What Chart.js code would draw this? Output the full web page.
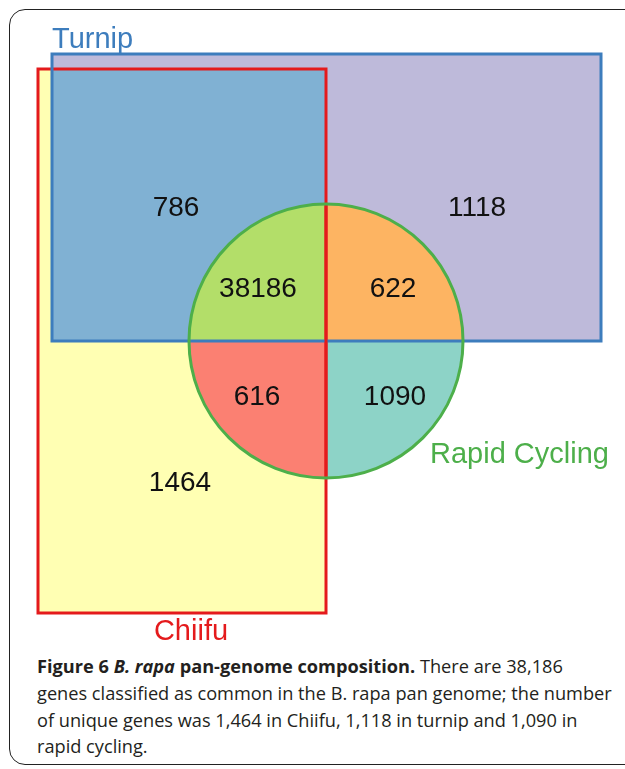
<!DOCTYPE html>
<html>
<head>
<meta charset="utf-8">
<script src="https://cdn.jsdelivr.net/npm/chart.js@4/dist/chart.umd.min.js"></script>
<style>
  html, body { margin: 0; padding: 0; background: #fff; }
  body { width: 625px; height: 769px; position: relative; overflow: hidden; }
  #frame {
    position: absolute; left: 9px; top: 9px; width: 700px; height: 756px;
    border: 1.5px solid #222; border-radius: 16px; box-sizing: border-box;
  }
  #chartBox { position: absolute; left: 0; top: 0; width: 625px; height: 650px; }
  #caption {
    position: absolute; left: 37px; top: 653px; width: 590px;
    font-family: "Open Sans", sans-serif; font-size: 18.2px; line-height: 26.8px;
    color: #231f20; white-space: nowrap;
  }
</style>
</head>
<body>
<div id="frame"></div>
<div id="chartBox"><canvas id="venn"></canvas></div>
<div id="caption">
  <b>Figure 6 <i>B. rapa</i> pan-genome composition.</b> There are 38,186<br>
  genes classified as common in the B. rapa pan genome; the number<br>
  of unique genes was 1,464 in Chiifu, 1,118 in turnip and 1,090 in<br>
  rapid cycling.
</div>
<script>
// set names and colours
var setNames = ['Turnip', 'Chiifu', 'Rapid Cycling'];
var setColors = ['#3d7dbd', '#e41a1c', '#4daf4a'];

// region counts (gene numbers)
var regionNames = ['Turnip only', 'Turnip & Chiifu', 'All three', 'Turnip & Rapid', 'Chiifu & Rapid', 'Rapid only', 'Chiifu only'];
var regionCounts = [1118, 786, 38186, 622, 616, 1090, 1464];
var regionFills = ['#bebada', '#80b1d3', '#b3de69', '#fdb462', '#fb8072', '#8dd3c7', '#ffffb3'];

// diagram layout in axis units
var turnipBox = { x0: 52, y0: 54, x1: 601, y1: 341 };
var chiifuBox = { x0: 38, y0: 69, x1: 326, y1: 613 };
var rapidCircle = { cx: 326, cy: 341, r: 137 };
var countPos = [[477, 208], [176, 208], [258, 289], [393, 289], [257, 397], [395, 397], [180, 483]];
var namePos = [[52, 40, 'left'], [191, 632, 'center'], [430, 455, 'left']];

var vennPlugin = {
    id: 'venn',
    beforeDatasetsDraw: function(chart) {
        var ctx = chart.ctx;
        var xs = chart.scales.x, ys = chart.scales.y;
        var px = function(v) { return xs.getPixelForValue(v); };
        var py = function(v) { return ys.getPixelForValue(v); };

        function fillBox(b, color) {
            ctx.fillStyle = color;
            ctx.fillRect(px(b.x0), py(b.y0), px(b.x1) - px(b.x0), py(b.y1) - py(b.y0));
        }
        function strokeBox(b, color) {
            ctx.strokeStyle = color;
            ctx.lineWidth = 3;
            ctx.strokeRect(px(b.x0), py(b.y0), px(b.x1) - px(b.x0), py(b.y1) - py(b.y0));
        }

        ctx.save();
        // rectangles
        fillBox(chiifuBox, regionFills[6]);
        fillBox(turnipBox, regionFills[0]);
        fillBox({ x0: turnipBox.x0, y0: chiifuBox.y0, x1: chiifuBox.x1, y1: turnipBox.y1 }, regionFills[1]);

        // circle quarters
        var cx = px(rapidCircle.cx), cy = py(rapidCircle.cy);
        var r = px(rapidCircle.cx + rapidCircle.r) - cx;
        var quarters = [[Math.PI, 1.5 * Math.PI, 2], [1.5 * Math.PI, 2 * Math.PI, 3],
                        [0.5 * Math.PI, Math.PI, 4], [0, 0.5 * Math.PI, 5]];
        quarters.forEach(function(q) {
            ctx.beginPath();
            ctx.moveTo(cx, cy);
            ctx.arc(cx, cy, r, q[0], q[1]);
            ctx.closePath();
            ctx.fillStyle = regionFills[q[2]];
            ctx.fill();
        });

        // outlines
        strokeBox(chiifuBox, setColors[1]);
        strokeBox(turnipBox, setColors[0]);
        ctx.beginPath();
        ctx.moveTo(px(chiifuBox.x1), py(rapidCircle.cy - rapidCircle.r));
        ctx.lineTo(px(chiifuBox.x1), py(rapidCircle.cy + rapidCircle.r));
        ctx.strokeStyle = setColors[1];
        ctx.lineWidth = 3;
        ctx.stroke();
        ctx.beginPath();
        ctx.arc(cx, cy, r, 0, 2 * Math.PI);
        ctx.strokeStyle = setColors[2];
        ctx.lineWidth = 3;
        ctx.stroke();

        // counts
        ctx.fillStyle = '#111';
        ctx.font = '28px "Liberation Sans", Arial, sans-serif';
        ctx.textAlign = 'center';
        ctx.textBaseline = 'middle';
        regionCounts.forEach(function(n, i) {
            ctx.fillText(String(n), px(countPos[i][0]), py(countPos[i][1]));
        });

        // set names
        ctx.font = '29px "Liberation Sans", Arial, sans-serif';
        setNames.forEach(function(name, i) {
            ctx.fillStyle = setColors[i];
            ctx.textAlign = namePos[i][2];
            ctx.fillText(name, px(namePos[i][0]), py(namePos[i][1]));
        });
        ctx.restore();
    }
};

new Chart(document.getElementById('venn'), {
    type: 'scatter',
    data: { datasets: [] },
    options: {
        responsive: true,
        maintainAspectRatio: false,
        animation: false,
        layout: { padding: 0 },
        plugins: { legend: { display: false }, tooltip: { enabled: false } },
        scales: {
            x: { type: 'linear', min: 0, max: 625, display: false },
            y: { type: 'linear', min: 0, max: 650, reverse: true, display: false }
        }
    },
    plugins: [vennPlugin]
});
</script>
</body>
</html>
